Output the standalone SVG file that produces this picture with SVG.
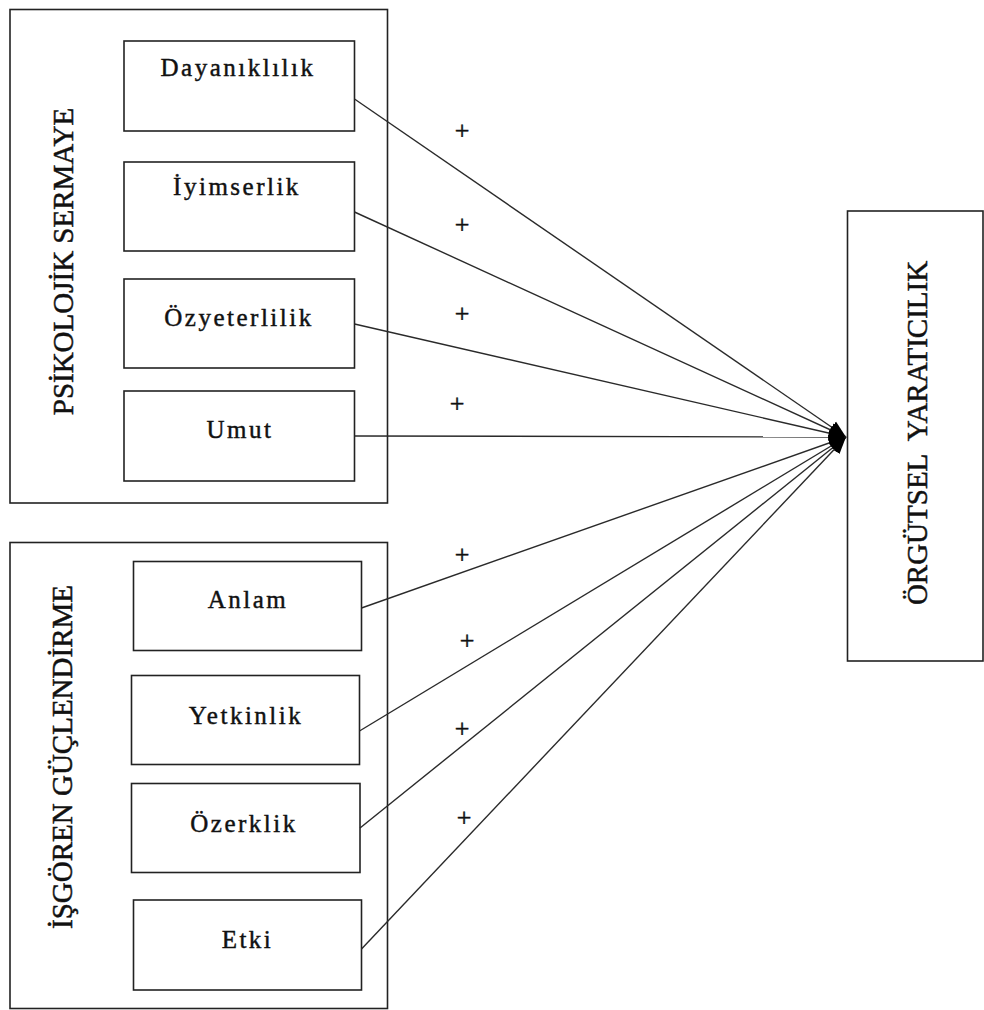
<svg xmlns="http://www.w3.org/2000/svg" width="984" height="1010" viewBox="0 0 984 1010">
  <style>
    .box { fill: #ffffff; stroke: #222222; stroke-width: 1.6; }
    .lbl { font-family: "Liberation Serif", "Times New Roman", serif; font-size: 25px; letter-spacing: 2.5px; fill: #111111; stroke: #111111; stroke-width: 0.45; text-anchor: middle; }
    .vlbl { font-family: "Liberation Serif", "Times New Roman", serif; font-size: 29px; fill: #111111; stroke: #111111; stroke-width: 0.5; text-anchor: middle; }
    .plus { font-family: "Liberation Serif", "Times New Roman", serif; font-size: 26px; fill: #111111; stroke: #111111; stroke-width: 0.5; text-anchor: middle; }
    .conn { stroke: #2a2a2a; stroke-width: 1.4; fill: none; marker-end: url(#arrow); }
  </style>
  <defs>
    <marker id="arrow" markerUnits="userSpaceOnUse" markerWidth="18" markerHeight="16" refX="17" refY="8" orient="auto">
      <path d="M0,1 L17,8 L0,15 Z" fill="#000000"/>
    </marker>
  </defs>
  <rect width="984" height="1010" fill="#ffffff"/>

  <g id="psikolojik-sermaye">
    <rect class="box" x="10" y="9.5" width="377.5" height="493.5"/>
    <text class="vlbl" transform="translate(73,261.5) rotate(-90)">PSİKOLOJİK SERMAYE</text>
  </g>
  <g id="dayaniklilik">
    <rect class="box" x="124" y="41" width="230.5" height="90"/>
    <text class="lbl" x="238" y="76">Dayanıklılık</text>
  </g>
  <g id="iyimserlik">
    <rect class="box" x="124" y="162" width="230.5" height="89"/>
    <text class="lbl" x="237" y="195">İyimserlik</text>
  </g>
  <g id="ozyeterlilik">
    <rect class="box" x="124" y="279" width="230.5" height="89"/>
    <text class="lbl" x="239" y="326">Özyeterlilik</text>
  </g>
  <g id="umut">
    <rect class="box" x="124" y="391" width="230.5" height="90"/>
    <text class="lbl" x="240" y="438">Umut</text>
  </g>

  <g id="isgoren-guclendirme">
    <rect class="box" x="10" y="542.5" width="377.5" height="466"/>
    <text class="vlbl" transform="translate(72,757) rotate(-90)">İŞGÖREN GÜÇLENDİRME</text>
  </g>
  <g id="anlam">
    <rect class="box" x="133.5" y="561.5" width="228" height="89"/>
    <text class="lbl" x="248" y="608">Anlam</text>
  </g>
  <g id="yetkinlik">
    <rect class="box" x="131.5" y="675.5" width="228" height="89"/>
    <text class="lbl" x="246" y="724">Yetkinlik</text>
  </g>
  <g id="ozerklik">
    <rect class="box" x="131.5" y="783.5" width="228.5" height="89"/>
    <text class="lbl" x="244" y="832">Özerklik</text>
  </g>
  <g id="etki">
    <rect class="box" x="133.5" y="900" width="228" height="90"/>
    <text class="lbl" x="247.5" y="948">Etki</text>
  </g>

  <g id="orgutsel-yaraticilik">
    <rect class="box" x="847.5" y="211" width="135.5" height="450"/>
    <text class="vlbl" transform="translate(927,433) rotate(-90)" xml:space="preserve">ÖRGÜTSEL  YARATICILIK</text>
  </g>

  <g id="connectors">
    <line class="conn" x1="354.5" y1="99" x2="846" y2="437"/>
    <line class="conn" x1="354.5" y1="212" x2="846" y2="437"/>
    <line class="conn" x1="354.5" y1="324" x2="846" y2="437"/>
    <line class="conn" x1="354.5" y1="436" x2="846" y2="437"/>
    <line class="conn" x1="361.5" y1="608" x2="846" y2="437"/>
    <line class="conn" x1="359.5" y1="731" x2="846" y2="437"/>
    <line class="conn" x1="360" y1="828" x2="846" y2="437"/>
    <line class="conn" x1="361.5" y1="949" x2="846" y2="437"/>
  </g>

  <g id="signs">
    <text class="plus" x="462" y="139">+</text>
    <text class="plus" x="462" y="232.5">+</text>
    <text class="plus" x="462" y="322">+</text>
    <text class="plus" x="457" y="412">+</text>
    <text class="plus" x="462" y="562.5">+</text>
    <text class="plus" x="467" y="649">+</text>
    <text class="plus" x="462" y="737">+</text>
    <text class="plus" x="464" y="825.5">+</text>
  </g>
</svg>
